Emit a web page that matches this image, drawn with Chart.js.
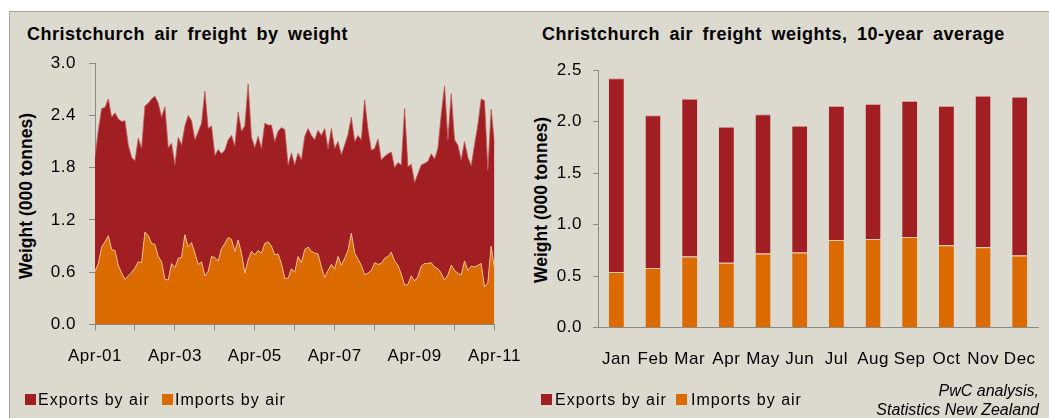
<!DOCTYPE html>
<html>
<head>
<meta charset="utf-8">
<script src="https://cdn.jsdelivr.net/npm/chart.js@4.4.1/dist/chart.umd.min.js"></script>
<style>
    html, body { margin: 0; padding: 0; background: #fff; }
    body { width: 1049px; height: 418px; position: relative; overflow: hidden;
           font-family: "Liberation Sans", Arial, sans-serif; color: #000; }
    .panel { position: absolute; left: 9px; top: 11px; right: -2px; bottom: -2px;
             background: #dcd9cf; border-top: 1px solid #aaa48e; border-left: 1px solid #aaa48e; }
    .title { position: absolute; top: 25px; font-size: 18px; line-height: 18px; font-weight: bold;
             letter-spacing: 0.5px; word-spacing: 4px; white-space: nowrap; }
    .ytitle { position: absolute; width: 260px; font-size: 17.5px; line-height: 18px; font-weight: bold;
              text-align: center; white-space: nowrap; transform: rotate(-90deg); }
    .legend { position: absolute; top: 392px; font-size: 16px; line-height: 16px; letter-spacing: 1px; white-space: nowrap; }
    .legend i { position: absolute; top: 2px; width: 11px; height: 11px; }
    .source { position: absolute; right: 10px; top: 382px; font-size: 16px; line-height: 18.7px;
              font-style: italic; text-align: right; white-space: nowrap; }
    canvas { position: absolute; top: 40px; }
</style>
</head>
<body>
<div class="panel"></div>

<div class="title" style="left:27px;">Christchurch air freight by weight</div>
<div class="title" style="left:542px;">Christchurch air freight weights, 10-year average</div>

<div class="ytitle" style="left:-104px; top:187px;">Weight (000 tonnes)</div>
<div class="ytitle" style="left:411px; top:191px;">Weight (000 tonnes)</div>

<canvas id="areaChart" width="545" height="370" style="left:0px;"></canvas>
<canvas id="barChart" width="529" height="370" style="left:520px;"></canvas>

<div class="legend" style="left:25px;"><i style="left:0; background:#a11f22;"></i><span style="margin-left:13px;">Exports by air</span></div>
<div class="legend" style="left:162px;"><i style="left:0; background:#db6a00;"></i><span style="margin-left:13px;">Imports by air</span></div>
<div class="legend" style="left:541px;"><i style="left:0; background:#a11f22;"></i><span style="margin-left:14px;">Exports by air</span></div>
<div class="legend" style="left:676px;"><i style="left:0; background:#db6a00;"></i><span style="margin-left:15px;">Imports by air</span></div>

<div class="source">PwC analysis,<br>Statistics New Zealand</div>

<script>
// Monthly weights, Apr-01 .. Apr-11 (000 tonnes)
var monthlyImports = [
    0.61, 0.70, 0.89, 0.95, 1.02, 0.86, 0.85, 0.68, 0.59, 0.52, 0.56, 0.60,
    0.65, 0.72, 0.71, 1.06, 1.02, 0.93, 0.92, 0.78, 0.72, 0.52, 0.51, 0.70,
    0.65, 0.76, 0.77, 1.03, 0.89, 0.94, 0.82, 0.69, 0.72, 0.56, 0.61, 0.78,
    0.77, 0.73, 0.87, 0.93, 1.00, 0.98, 0.84, 0.97, 0.82, 0.59, 0.74, 0.84,
    0.80, 0.85, 0.82, 0.93, 0.95, 0.90, 0.80, 0.81, 0.70, 0.53, 0.53, 0.64,
    0.60, 0.78, 0.71, 0.86, 0.89, 0.84, 0.82, 0.81, 0.66, 0.54, 0.62, 0.69,
    0.64, 0.78, 0.68, 0.76, 0.85, 1.05, 0.82, 0.75, 0.68, 0.57, 0.59, 0.62,
    0.71, 0.69, 0.70, 0.76, 0.78, 0.83, 0.73, 0.68, 0.58, 0.45, 0.46, 0.56,
    0.50, 0.55, 0.67, 0.70, 0.70, 0.71, 0.66, 0.64, 0.59, 0.51, 0.57, 0.68,
    0.62, 0.59, 0.57, 0.73, 0.62, 0.67, 0.66, 0.68, 0.70, 0.43, 0.48, 0.90,
    0.64
];
var monthlyExports = [
    1.31, 1.53, 1.59, 1.54, 1.57, 1.52, 1.58, 1.68, 1.74, 1.82, 1.50, 1.32,
    1.23, 1.42, 1.31, 1.45, 1.52, 1.66, 1.70, 1.76, 1.66, 1.98, 1.52, 1.38,
    1.18, 1.39, 1.29, 1.25, 1.51, 1.40, 1.30, 1.52, 1.59, 2.12, 1.64, 1.50,
    1.17, 1.28, 1.09, 1.07, 1.12, 1.19, 1.21, 1.47, 1.40, 1.69, 2.02, 1.31,
    1.23, 1.31, 1.20, 1.38, 1.34, 1.39, 1.30, 1.41, 1.56, 1.71, 1.30, 1.33,
    1.23, 1.19, 1.18, 1.30, 1.36, 1.33, 1.30, 1.42, 1.51, 1.71, 1.40, 1.56,
    1.38, 1.32, 1.27, 1.30, 1.33, 1.33, 1.28, 1.42, 1.44, 2.01, 1.65, 1.38,
    1.31, 1.44, 1.19, 1.17, 1.18, 1.15, 1.07, 1.18, 1.25, 2.03, 1.35, 1.28,
    1.13, 1.18, 1.16, 1.15, 1.17, 1.25, 1.24, 1.38, 1.82, 2.23, 1.55, 1.97,
    1.50, 1.47, 1.32, 1.37, 1.30, 1.15, 1.40, 1.61, 1.89, 2.14, 1.29, 1.57,
    1.44
];
var yearTickLabels = ['Apr-01', 'Apr-03', 'Apr-05', 'Apr-07', 'Apr-09', 'Apr-11'];

// 10-year monthly averages
var monthNames = ['Jan', 'Feb', 'Mar', 'Apr', 'May', 'Jun', 'Jul', 'Aug', 'Sep', 'Oct', 'Nov', 'Dec'];
var avgImports = [0.54, 0.58, 0.69, 0.63, 0.72, 0.73, 0.85, 0.86, 0.88, 0.80, 0.78, 0.70];
var avgExports = [1.88, 1.48, 1.53, 1.32, 1.35, 1.23, 1.30, 1.31, 1.32, 1.35, 1.47, 1.54];

var RED = '#a11f22';
var ORANGE = '#db6a00';
var AXIS = '#8a8a8a';
var tickFont = { family: '"Liberation Sans", Arial, sans-serif', size: 17 };

// Excel text looks slightly stretched; emulate with a bit of letter spacing
var letterSpacing = {
    id: 'letterSpacing',
    beforeLayout: function(chart) { chart.ctx.letterSpacing = '0.5px'; },
    beforeDraw: function(chart) { chart.ctx.letterSpacing = '0.5px'; }
};

function toPoints(values) {
    return values.map(function(v, i) { return { x: i, y: v }; });
}

new Chart(document.getElementById('areaChart'), {
    type: 'line',
    data: {
        datasets: [{
            label: 'Imports by air',
            data: toPoints(monthlyImports),
            fill: 'origin',
            backgroundColor: ORANGE,
            borderColor: 'rgba(250, 200, 150, 0.9)',
            borderWidth: 1,
            pointRadius: 0,
            tension: 0
        }, {
            label: 'Exports by air',
            data: toPoints(monthlyExports),
            fill: '-1',
            backgroundColor: RED,
            borderColor: 'rgba(190, 90, 90, 0.8)',
            borderWidth: 1,
            pointRadius: 0,
            tension: 0
        }]
    },
    options: {
        responsive: false,
        animation: false,
        layout: { padding: { top: 23, right: 50.5, bottom: 5.5, left: 0 } },
        plugins: { legend: { display: false }, tooltip: { enabled: false } },
        scales: {
            x: {
                type: 'linear',
                min: 0,
                max: 120,
                afterFit: function(scale) { scale.height = 80; },
                grid: { display: true, drawOnChartArea: false, drawTicks: true, tickLength: 6, color: AXIS },
                border: { display: true, color: AXIS },
                ticks: {
                    stepSize: 12,
                    autoSkip: false,
                    maxRotation: 0,
                    padding: 16,
                    color: '#000',
                    font: tickFont,
                    callback: function(v) { return v % 24 === 0 ? yearTickLabels[v / 24] : ''; }
                }
            },
            y: {
                stacked: true,
                min: 0,
                max: 3,
                afterFit: function(scale) { scale.width = 95; },
                grid: { display: true, drawOnChartArea: false, drawTicks: true, tickLength: 6, color: AXIS },
                border: { display: true, color: AXIS },
                ticks: {
                    stepSize: 0.6,
                    padding: 13,
                    color: '#000',
                    font: tickFont,
                    callback: function(v) { return v.toFixed(1); }
                }
            }
        }
    },
    plugins: [letterSpacing]
});

new Chart(document.getElementById('barChart'), {
    type: 'bar',
    data: {
        labels: monthNames,
        datasets: [{
            label: 'Imports by air',
            data: avgImports,
            backgroundColor: ORANGE,
            borderColor: 'rgba(250, 200, 160, 0.7)',
            borderWidth: { top: 1, left: 0, right: 0, bottom: 0 }
        }, {
            label: 'Exports by air',
            data: avgExports,
            backgroundColor: RED,
            borderColor: 'rgba(210, 130, 130, 0.7)',
            borderWidth: { top: 1, left: 0, right: 0, bottom: 0 }
        }]
    },
    options: {
        responsive: false,
        animation: false,
        datasets: { bar: { categoryPercentage: 1, barPercentage: 0.41 } },
        layout: { padding: { top: 30, right: 10, bottom: 2.3, left: 0 } },
        plugins: { legend: { display: false }, tooltip: { enabled: false } },
        scales: {
            x: {
                stacked: true,
                afterFit: function(scale) { scale.height = 80; },
                grid: { display: false },
                border: { display: true, color: AXIS },
                ticks: { padding: 13, color: '#000', font: tickFont, maxRotation: 0, autoSkip: false }
            },
            y: {
                stacked: true,
                min: 0,
                max: 2.5,
                afterFit: function(scale) { scale.width = 78; },
                grid: { display: true, drawOnChartArea: false, drawTicks: true, tickLength: 5, color: AXIS },
                border: { display: true, color: AXIS },
                ticks: {
                    stepSize: 0.5,
                    padding: 11,
                    color: '#000',
                    font: tickFont,
                    callback: function(v) { return v.toFixed(1); }
                }
            }
        }
    },
    plugins: [letterSpacing]
});
</script>
</body>
</html>
